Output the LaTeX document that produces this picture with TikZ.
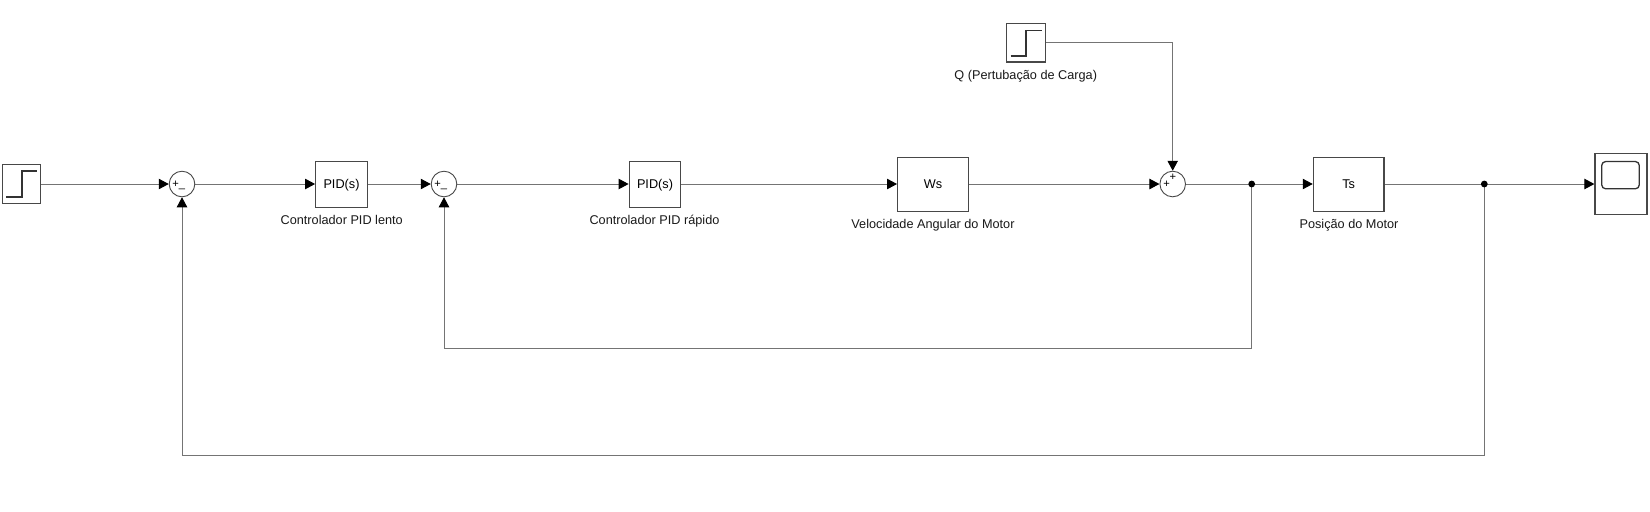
\documentclass[tikz,border=0pt]{standalone}
\usepackage{fontspec}
\setmainfont{Liberation Sans}
\usetikzlibrary{arrows.meta}
\pgfdeclarelayer{paper}
\pgfdeclarelayer{wires}
\pgfsetlayers{paper,wires,main}
\definecolor{wire}{HTML}{747474}
\definecolor{edge}{HTML}{484848}
\tikzset{
  x=0.5pt,y=-0.5pt,
  blockbox/.style n args={2}{draw=edge,line width=0.6pt,fill=white,rectangle,inner sep=0pt,minimum width=#1*0.5pt,minimum height=#2*0.5pt,text height=4.6pt,text depth=0pt,font=\fontsize{6.35pt}{7pt}\selectfont},
  sumnode/.style={draw=edge,line width=0.45pt,fill=white,circle,inner sep=0pt,minimum size=12.8pt},
  sign/.style={inner sep=0pt,font=\fontsize{5.6pt}{6pt}\selectfont},
  caption/.style={inner sep=0pt,text height=4.6pt,text depth=0pt,font=\fontsize{6.35pt}{7pt}\selectfont,text=black!90},
  junction/.style={circle,fill=black,inner sep=0pt,minimum size=3.4pt},
  wireline/.style={draw=wire,line width=0.5pt},
  arrowline/.style={wireline,-{Triangle[length=5pt,width=5.2pt,color=black,fill=black]}},
  glyph/.style={draw=black!80,line width=0.6pt,line join=miter},
}
\begin{document}
\begin{tikzpicture}
\useasboundingbox (0,0) rectangle (1650,511);
\begin{pgfonlayer}{paper}
\fill[white] (0,0) rectangle (1650,511);
\end{pgfonlayer}

% sources
\node[blockbox={38.6}{38.6}] (st1) at (21.5,184) {};
\draw[glyph] (6,197) -- (22,197) -- (22,171) -- (37,171);
\node[blockbox={38.6}{38.6}] (st2) at (1026,42.6) {};
\draw[glyph] (1010.5,56) -- (1026,56) -- (1026,30.2) -- (1041.5,30.2);

% sums
\node[sumnode] (sum1) at (182,184) {};
\node[sumnode] (sum2) at (444,184) {};
\node[sumnode] (sum3) at (1172.7,184) {};
\node[sign] (p1) at (175.6,184) {+};
\node[sign] (m1) at (182,188.5) {\_};
\node[sign] (p2) at (437.6,184) {+};
\node[sign] (m2) at (444,188.5) {\_};
\node[sign] (p3) at (1166.7,184.5) {+};
\node[sign] (p4) at (1173,177) {+};

% blocks
\node[blockbox={51.6}{46}] (pid1) at (341.5,184.2) {PID(s)};
\node[blockbox={51.6}{46}] (pid2) at (655,184.2) {PID(s)};
\node[blockbox={70.7}{54}] (ws) at (933,184.2) {Ws};
\node[blockbox={70.7}{54}] (ts) at (1348.7,184.2) {Ts};

% scope
\node[blockbox={52}{61.6}] (scope) at (1621,184) {};
\draw[glyph,rounded corners=2pt,line width=0.65pt] (1601.7,161.5) rectangle (1639.3,188.8);

% captions
\node[caption] (l1) at (341.7,219.6) {Controlador PID lento};
\node[caption] (l2) at (654.5,219.6) {Controlador PID rápido};
\node[caption] (l3) at (933,223.6) {Velocidade Angular do Motor};
\node[caption] (l4) at (1349,223.6) {Posição do Motor};
\node[caption] (l5) at (1025.7,75.3) {Q (Pertubação de Carga)};

% junctions and corners
\node[junction] (d1) at (1251.7,184) {};
\node[junction] (d2) at (1484.3,184) {};
\coordinate (fb1) at (444,348.3);
\coordinate (fb2) at (182,455);

% connectors
\begin{pgfonlayer}{wires}
\draw[arrowline] (st1.east) -- (sum1.west);
\draw[arrowline] (sum1.east) -- (pid1.west |- sum1.east);
\draw[arrowline] (pid1.east |- sum2.west) -- (sum2.west);
\draw[arrowline] (sum2.east) -- (pid2.west |- sum2.east);
\draw[arrowline] (pid2.east |- sum3.west) -- (ws.west |- sum3.west);
\draw[arrowline] (ws.east |- sum3.west) -- (sum3.west);
\draw[arrowline] (st2.east) -| (sum3.north);
\draw[wireline] (sum3.east) -- (d1.center);
\draw[arrowline] (d1.center) -- (ts.west |- d1.center);
\draw[wireline] (ts.east |- d2.center) -- (d2.center);
\draw[arrowline] (d2.center) -- (scope.west);
\draw[wireline] (d1.center) |- (fb1);
\draw[arrowline] (fb1) -- (sum2.south);
\draw[wireline] (d2.center) |- (fb2);
\draw[arrowline] (fb2) -- (sum1.south);
\end{pgfonlayer}
\end{tikzpicture}
\end{document}
